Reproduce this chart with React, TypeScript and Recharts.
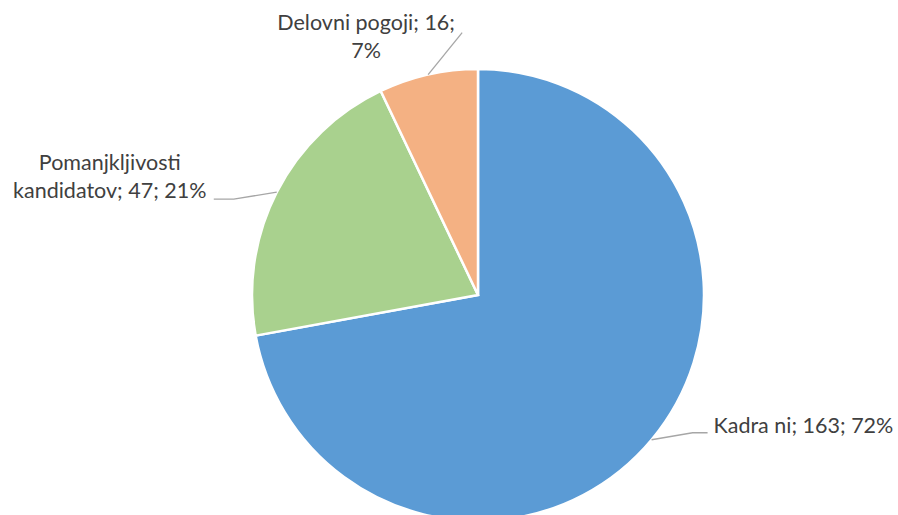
import { PieChart, Pie, Cell } from "recharts";

const CATEGORIES = ["Kadra ni", "Pomanjkljivosti kandidatov", "Delovni pogoji"];
const VALUES = [163, 47, 16];
const SLICE_COLORS = ["#5B9BD5", "#A9D18E", "#F4B183"];

const data = CATEGORIES.map((name, i) => ({ name, value: VALUES[i] }));

const RADIAN = Math.PI / 180;
const TEXT_COLOR = "#404040";
const LINE_COLOR = "#A6A6A6";

// leader line + text placement, offsets from the slice edge at its mid angle
type Layout = {
  elbow: [number, number];
  end: [number, number];
  text: [number, number];
  anchor: "start" | "middle" | "end";
  breakAfter: number; // word index where the label wraps, -1 = no wrap
};

const LABEL_LAYOUT: Layout[] = [
  { elbow: [41, -7], end: [56, -7], text: [62, -7], anchor: "start", breakAfter: -1 },
  { elbow: [-43, 7], end: [-63, 7], text: [-167, -22], anchor: "middle", breakAfter: 1 },
  { elbow: [34, -42], end: [34, -42], text: [-62, -45], anchor: "middle", breakAfter: 3 },
];

const total = VALUES.reduce((a, b) => a + b, 0);

function renderLabel(props: any) {
  const { cx, cy, midAngle, outerRadius, index } = props;
  const d = data[index];
  const lay = LABEL_LAYOUT[index];
  const x0 = cx + outerRadius * Math.cos(-midAngle * RADIAN);
  const y0 = cy + outerRadius * Math.sin(-midAngle * RADIAN);
  const pct = Math.round((d.value / total) * 100);
  const words = `${d.name}; ${d.value}; ${pct}%`.split(" ");
  const lines =
    lay.breakAfter < 0
      ? [words.join(" ")]
      : [words.slice(0, lay.breakAfter).join(" "), words.slice(lay.breakAfter).join(" ")];
  const tx = x0 + lay.text[0];
  const ty = y0 + lay.text[1];
  return (
    <g key={`lbl-${index}`}>
      <polyline
        points={`${x0},${y0} ${x0 + lay.elbow[0]},${y0 + lay.elbow[1]} ${x0 + lay.end[0]},${y0 + lay.end[1]}`}
        fill="none"
        stroke={LINE_COLOR}
        strokeWidth={1.3}
      />
      <text
        x={tx}
        y={ty}
        textAnchor={lay.anchor}
        fill={TEXT_COLOR}
        fontSize={21.5}
        fontFamily="Lato, 'Open Sans', sans-serif"
      >
        {lines.map((ln, i) => (
          <tspan key={i} x={tx} dy={i === 0 ? 0 : 28}>
            {ln}
          </tspan>
        ))}
      </text>
    </g>
  );
}

export default function App() {
  return (
    <div style={{ position: "absolute", left: 0, top: 0, width: 898, height: 515, background: "#fff" }}>
      <PieChart width={898} height={515} margin={{ top: 0, right: 0, bottom: 0, left: 0 }}>
        <Pie
          data={data}
          dataKey="value"
          nameKey="name"
          cx={478}
          cy={295}
          outerRadius={226}
          startAngle={90}
          endAngle={-270}
          stroke="#fff"
          strokeWidth={2.5}
          label={renderLabel}
          labelLine={false}
          isAnimationActive={false}
        >
          {data.map((entry, i) => (
            <Cell key={entry.name} fill={SLICE_COLORS[i]} />
          ))}
        </Pie>
      </PieChart>
    </div>
  );
}
